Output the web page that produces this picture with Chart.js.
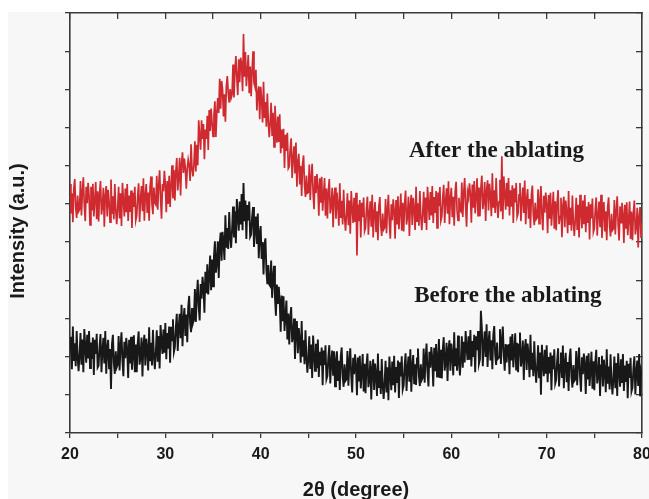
<!DOCTYPE html>
<html>
<head>
<meta charset="utf-8">
<script src="https://cdn.jsdelivr.net/npm/chart.js@4/dist/chart.umd.min.js"></script>
<style>
  html, body { margin: 0; padding: 0; background: #ffffff; }
  #c { display: block; }
</style>
</head>
<body>
<canvas id="c" width="649" height="499"></canvas>
<script>
// Scan grid: 2θ from 20° to 80°, sampled every 0.1°
const angleStart = 20;
const angleStep = 0.1;

// Intensity (a.u.), 10 values per degree
const afterAblating = [
  652,575,628,552,640,665,590,563,622,580,
  585,660,570,632,670,595,555,645,602,655,
  620,545,645,583,653,567,610,657,560,633,
  554,627,660,572,592,642,540,622,647,567,
  637,607,552,664,574,620,560,652,584,547,
  588,645,562,628,542,655,610,567,640,578,
  652,555,622,579,635,537,629,592,645,557,
  570,621,654,553,614,647,581,667,556,624,
  652,576,630,556,645,672,599,573,643,603,
  598,674,585,649,688,614,561,652,633,687,
  651,578,660,600,674,592,649,701,614,689,
  609,685,720,635,668,721,622,706,735,681,
  719,692,640,693,716,700,660,756,691,672,
  703,764,685,755,701,819,778,742,819,770,
  809,717,795,770,831,741,846,791,850,813,
  777,832,869,775,838,877,838,928,849,922,
  901,829,887,815,908,935,890,865,901,877,
  886,965,879,945,987,931,885,979,919,983,
  966,895,1045,933,998,908,947,990,890,960,
  882,949,1000,917,907,951,845,889,908,822,
  907,872,813,920,825,867,802,889,816,775,
  813,865,778,839,749,857,808,760,829,762,
  835,733,795,746,797,694,781,739,786,693,
  698,744,772,668,720,751,680,761,645,708,
  731,651,700,621,705,727,649,618,674,628,
  630,703,610,670,705,628,586,673,628,678,
  646,569,667,603,671,582,623,668,569,640,
  562,633,665,575,594,642,539,619,643,561,
  630,599,543,654,563,608,546,637,568,530,
  572,628,544,609,522,634,588,550,616,553,
  629,465,598,555,610,512,603,565,617,529,
  538,588,619,519,574,607,540,624,512,578,
  605,528,581,505,593,618,543,516,575,533,
  538,613,523,586,624,549,509,599,557,612,
  583,509,610,546,620,534,579,627,530,603,
  528,601,635,546,567,619,516,598,624,545,
  616,587,532,645,555,602,543,634,567,531,
  575,632,550,617,532,645,600,558,631,570,
  647,550,618,576,634,537,630,594,644,556,
  567,617,650,550,607,641,574,659,547,615,
  642,565,619,543,632,658,583,557,616,584,
  580,656,566,629,668,594,540,631,617,654,
  625,551,651,590,660,575,619,667,569,643,
  568,641,674,586,606,657,555,637,662,583,
  653,623,568,680,590,636,576,668,600,563,
  606,663,580,725,560,672,628,585,655,593,
  668,570,636,593,649,550,641,604,655,566,
  575,624,655,555,609,643,576,661,547,613,
  639,561,613,537,624,648,572,544,603,560,
  564,638,548,609,647,571,531,621,577,630,
  599,523,623,561,629,543,586,632,535,607,
  531,603,636,547,567,616,513,594,619,539,
  609,579,523,634,545,590,530,622,554,516,
  559,616,532,598,512,624,579,536,609,547,
  623,526,593,550,605,507,599,562,614,526,
  536,586,617,517,572,606,539,624,511,578,
  605,528,581,505,592,617,542,515,574,531,
  535,610,520,582,620,544,504,594,551,603,
  573,498,598,535,604,518,560,606,508,580,
  505,577,609,520,539,590,486,567,592,511,
  550
];

const beforeAblating = [
  252,222,167,279,189,235,175,267,199,162,
  205,262,179,245,159,272,227,184,257,195,
  267,170,237,194,250,152,244,207,260,172,
  177,227,259,159,215,249,182,267,155,222,
  244,167,220,115,232,257,182,155,214,172,
  179,254,164,226,264,189,149,239,196,249,
  219,144,244,182,252,166,209,256,159,232,
  159,233,266,179,199,250,148,231,257,177,
  247,218,164,277,188,236,177,270,203,167,
  211,269,187,254,169,283,239,207,271,210,
  288,193,262,221,279,184,278,243,298,212,
  224,277,312,215,274,312,248,336,227,297,
  327,254,310,238,330,359,287,264,327,288,
  297,377,291,358,401,331,295,390,352,409,
  384,315,422,366,442,363,412,465,374,454,
  384,463,502,420,446,502,406,494,525,451,
  527,502,453,570,485,537,482,579,516,485,
  533,593,512,581,497,613,571,530,606,546,
  626,531,655,555,609,508,597,557,606,514,
  520,565,592,487,538,567,495,575,458,520,
  542,456,500,415,494,510,426,390,440,389,
  385,452,354,408,438,355,307,389,338,383,
  345,265,360,293,358,267,305,347,245,313,
  232,301,330,238,254,300,194,272,293,209,
  275,242,184,293,200,243,180,269,198,158,
  198,253,168,232,144,255,208,163,234,170,
  245,147,213,177,224,125,216,178,230,141,
  150,199,230,130,186,216,150,214,122,188,
  214,136,189,113,200,224,148,121,180,137,
  141,215,124,185,222,148,106,197,154,206,
  175,99,198,135,202,117,159,207,109,181,
  104,176,208,120,140,189,88,168,193,113,
  182,152,97,208,118,163,102,194,126,89,
  132,189,106,172,86,200,155,112,187,125,
  202,106,173,131,190,92,185,148,201,114,
  125,176,209,110,167,200,134,219,108,176,
  204,128,180,126,195,221,148,123,180,139,
  145,221,132,195,234,160,122,213,171,225,
  196,122,223,162,233,148,192,246,144,218,
  143,217,251,163,185,236,136,217,243,163,
  234,205,151,264,175,222,163,255,187,151,
  195,253,171,239,185,267,223,191,253,192,
  270,174,241,199,257,159,253,217,267,182,
  193,320,275,175,231,266,199,285,173,240,
  267,190,243,167,255,280,205,178,237,195,
  198,272,181,242,279,204,163,233,185,229,
  230,154,253,190,259,172,214,261,164,236,
  159,231,263,174,193,242,139,220,246,165,
  234,203,146,257,166,210,149,240,171,132,
  174,230,146,211,100,231,184,149,218,155,
  230,133,199,156,211,112,203,167,219,130,
  140,190,222,122,178,211,144,229,117,183,
  210,133,186,110,197,221,146,119,178,136,
  140,215,125,187,224,149,108,198,154,208,
  177,102,202,140,209,123,166,213,116,188,
  112,185,218,130,150,199,97,177,202,122,
  192,162,107,219,129,174,114,206,138,101,
  143,200,117,183,97,209,164,121,193,131,
  207,110,177,134,189,91,181,144,197,109,
  119,169,201,101,157,190,123,207,96,162,
  150
];

const xTickLabels = [20, 30, 40, 50, 60, 70, 80];
const seriesNames = ['After the ablating', 'Before the ablating'];
const xTitle = '2θ (degree)';
const yTitle = 'Intensity (a.u.)';

function toPoints(values) {
  return values.map((v, i) => ({ x: +(angleStart + i * angleStep).toFixed(2), y: v }));
}

const axisColor = '#3a3a3a';

const bgPlugin = {
  id: 'bg',
  beforeDraw(chart) {
    const ctx = chart.ctx;
    ctx.save();
    ctx.fillStyle = '#ffffff';
    ctx.fillRect(0, 0, chart.width, chart.height);
    ctx.fillStyle = '#f7f7f7';
    ctx.fillRect(8, 12, chart.width - 8, chart.height - 12);
    ctx.restore();
  }
};

const textPlugin = {
  id: 'texts',
  afterDraw(chart) {
    const ctx = chart.ctx;
    const xs = chart.scales.x, ys = chart.scales.y;
    ctx.save();
    ctx.fillStyle = '#1a1a1a';
    ctx.font = 'bold 23px "Liberation Serif", "Times New Roman", serif';
    ctx.textAlign = 'left';
    ctx.textBaseline = 'alphabetic';
    ctx.fillText(seriesNames[0], xs.getPixelForValue(55.55), ys.getPixelForValue(723));
    ctx.fillText(seriesNames[1], xs.getPixelForValue(56.1), ys.getPixelForValue(343));
    ctx.font = 'bold 20px "Liberation Sans", Arial, sans-serif';
    ctx.textAlign = 'center';
    ctx.textBaseline = 'middle';
    ctx.fillText(xTitle, (chart.chartArea.left + chart.chartArea.right) / 2, 490);
    ctx.translate(18, 231);
    ctx.rotate(-Math.PI / 2);
    ctx.fillText(yTitle, 0, 0);
    ctx.restore();
  }
};

const gridCommon = (len) => ({
  display: true, drawOnChartArea: false, drawTicks: true,
  tickLength: len, color: axisColor, lineWidth: 1.3
});
const borderCommon = { display: true, color: axisColor, width: 1.6 };

new Chart(document.getElementById('c'), {
  type: 'line',
  data: {
    datasets: [
      {
        label: seriesNames[0],
        data: toPoints(afterAblating),
        borderColor: 'rgb(206,42,48)',
        borderWidth: 1.7,
        pointRadius: 0,
        tension: 0,
        fill: false
      },
      {
        label: seriesNames[1],
        data: toPoints(beforeAblating),
        borderColor: 'rgb(24,24,24)',
        borderWidth: 1.9,
        pointRadius: 0,
        tension: 0,
        fill: false
      }
    ]
  },
  options: {
    responsive: false,
    animation: false,
    events: [],
    layout: { padding: 0 },
    plugins: { legend: { display: false }, tooltip: { enabled: false } },
    scales: {
      x: {
        type: 'linear', position: 'bottom', min: 20, max: 80,
        ticks: {
          stepSize: 5, autoSkip: false, maxRotation: 0, padding: 7,
          color: '#1a1a1a',
          font: { family: '"Liberation Sans", Arial, sans-serif', size: 16, weight: 'bold' },
          callback: (v) => xTickLabels.includes(v) ? String(v) : ''
        },
        grid: gridCommon(5),
        border: borderCommon,
        afterFit: (s) => { s.height = 66; s.paddingLeft = 0; s.paddingRight = 0; }
      },
      x2: {
        type: 'linear', position: 'top', min: 20, max: 80,
        ticks: { display: false, stepSize: 5 },
        grid: gridCommon(-6),
        border: borderCommon,
        afterFit: (s) => { s.height = 13; s.paddingLeft = 0; s.paddingRight = 0; }
      },
      y: {
        type: 'linear', position: 'left', min: 0, max: 1100,
        ticks: { display: false, stepSize: 100 },
        grid: gridCommon(5),
        border: borderCommon,
        afterFit: (s) => { s.width = 70; s.paddingTop = 0; s.paddingBottom = 0; }
      },
      y2: {
        type: 'linear', position: 'right', min: 0, max: 1100,
        ticks: { display: false, stepSize: 100 },
        grid: gridCommon(-6),
        border: borderCommon,
        afterFit: (s) => { s.width = 7; s.paddingTop = 0; s.paddingBottom = 0; }
      }
    }
  },
  plugins: [bgPlugin, textPlugin]
});
</script>
</body>
</html>
